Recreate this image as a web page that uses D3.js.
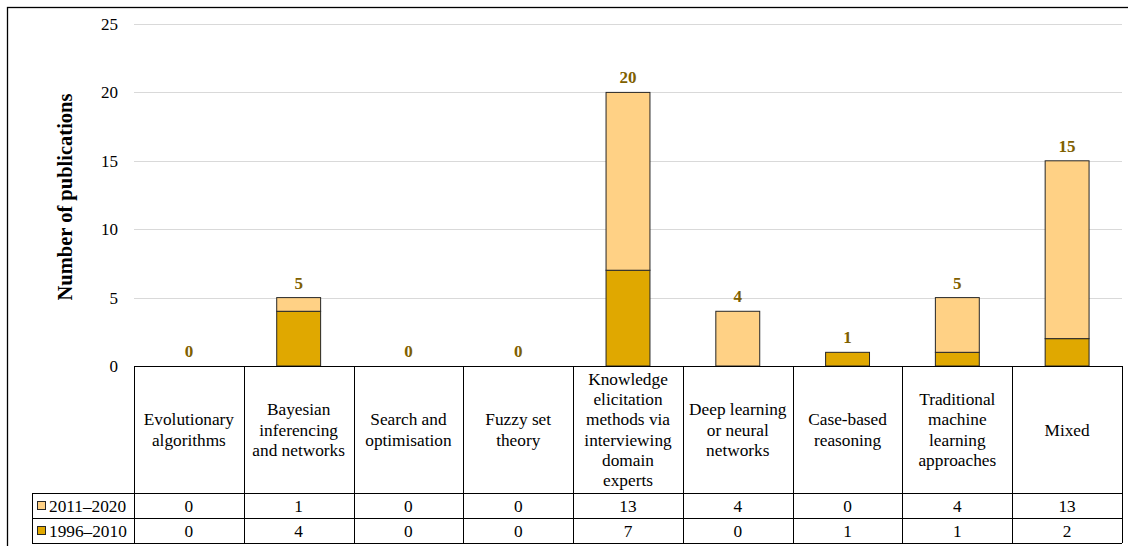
<!DOCTYPE html>
<html>
<head>
<meta charset="utf-8">
<script src="https://cdn.jsdelivr.net/npm/d3@7"></script>
<style>
  html, body { margin: 0; padding: 0; background: #fff; }
  svg { display: block; }
</style>
</head>
<body>
<svg id="chart" width="1128" height="546"></svg>
<script>
// Publication counts by AI method and period
const categories = [
  ["Evolutionary", "algorithms"],
  ["Bayesian", "inferencing", "and networks"],
  ["Search and", "optimisation"],
  ["Fuzzy set", "theory"],
  ["Knowledge", "elicitation", "methods via", "interviewing", "domain", "experts"],
  ["Deep learning", "or neural", "networks"],
  ["Case-based", "reasoning"],
  ["Traditional", "machine", "learning", "approaches"],
  ["Mixed"]
];
const seriesNames = ["2011–2020", "1996–2010"];
const recent = [0, 1, 0, 0, 13, 4, 0, 4, 13];   // 2011–2020
const early  = [0, 4, 0, 0, 7, 0, 1, 1, 2];     // 1996–2010
const yTicks = [0, 5, 10, 15, 20, 25];

const colors = { recent: "#ffd185", early: "#e0a800", total: "#7f6000" };
const FONT = "'Liberation Serif'";
const TXT = 17.3;

const svg = d3.select("#chart");
const plotLeft = 134, plotRight = 1122, plotTop = 24, plotBase = 366;
const catRowBottom = 493, rowH = 25;

const x = d3.scaleBand().domain(d3.range(categories.length)).range([plotLeft, plotRight]).padding(0);
const y = d3.scaleLinear().domain([0, 25]).range([plotBase, plotTop]);
const barW = x.bandwidth() * 0.40;

// outer frame
svg.append("rect").attr("x", 7.5).attr("y", 7.5).attr("width", 1130).attr("height", 545)
  .attr("fill", "none").attr("stroke", "#000").attr("stroke-width", 1.3);

// gridlines
svg.append("g").selectAll("line").data(yTicks.filter(d => d > 0)).join("line")
  .attr("x1", plotLeft).attr("x2", plotRight)
  .attr("y1", d => Math.round(y(d)) + 0.5).attr("y2", d => Math.round(y(d)) + 0.5)
  .attr("stroke", "#d9d9d9").attr("stroke-width", 1);

// y-axis tick labels
const yAxis = d3.axisLeft(y).tickValues(yTicks).tickSize(0).tickPadding(16);
const gy = svg.append("g").attr("transform", `translate(${plotLeft},0)`).call(yAxis);
gy.select(".domain").remove();
gy.attr("font-family", null).attr("font-size", null);
gy.selectAll("text").attr("font-family", FONT).attr("font-size", 17).attr("fill", "#000");

// axis title
svg.append("text")
  .attr("transform", "translate(72,197) rotate(-90)")
  .attr("text-anchor", "middle")
  .attr("font-family", FONT)
  .attr("font-size", 20.5).attr("font-weight", "bold")
  .text("Number of publications");

// stacked bars
const data = categories.map((c, i) => ({ i, early: early[i], recent: recent[i], total: early[i] + recent[i] }));
const bars = svg.append("g");
data.forEach(d => {
  const cx = x(d.i) + x.bandwidth() / 2;
  if (d.early > 0) {
    bars.append("rect")
      .attr("x", cx - barW / 2).attr("y", y(d.early))
      .attr("width", barW).attr("height", y(0) - y(d.early))
      .attr("fill", colors.early).attr("stroke", "#262626").attr("stroke-width", 1);
  }
  if (d.recent > 0) {
    bars.append("rect")
      .attr("x", cx - barW / 2).attr("y", y(d.total))
      .attr("width", barW).attr("height", y(d.early) - y(d.total))
      .attr("fill", colors.recent).attr("stroke", "#262626").attr("stroke-width", 1);
  }
  bars.append("text")
    .attr("x", cx).attr("y", y(d.total) - 9)
    .attr("text-anchor", "middle")
    .attr("font-family", FONT)
    .attr("font-size", 17).attr("font-weight", "bold")
    .attr("fill", colors.total)
    .text(d.total);
});

// data table
const table = svg.append("g");
const tableLeft = 32;
const rowsTop = catRowBottom, tableBottom = catRowBottom + 2 * rowH;

// horizontal lines
table.append("line").attr("x1", plotLeft).attr("x2", plotRight).attr("y1", plotBase + 0.5).attr("y2", plotBase + 0.5);
[rowsTop, rowsTop + rowH, tableBottom].forEach(yy => {
  table.append("line").attr("x1", tableLeft).attr("x2", plotRight).attr("y1", yy + 0.5).attr("y2", yy + 0.5);
});
// vertical lines
d3.range(categories.length + 1).forEach(k => {
  const xx = k < categories.length ? x(k) : plotRight;
  table.append("line").attr("x1", Math.round(xx) + 0.5).attr("x2", Math.round(xx) + 0.5)
    .attr("y1", plotBase).attr("y2", tableBottom);
});
table.append("line").attr("x1", tableLeft + 0.5).attr("x2", tableLeft + 0.5).attr("y1", rowsTop).attr("y2", tableBottom);
table.selectAll("line").attr("stroke", "#000").attr("stroke-width", 1);

// category labels
const lineH = 20.3;
categories.forEach((lines, i) => {
  const cx = x(i) + x.bandwidth() / 2;
  const mid = (plotBase + catRowBottom) / 2;
  const t = table.append("text").attr("text-anchor", "middle")
    .attr("font-family", FONT).attr("font-size", TXT);
  lines.forEach((ln, j) => {
    t.append("tspan").attr("x", cx)
      .attr("y", mid + (j - (lines.length - 1) / 2) * lineH + 6)
      .text(ln);
  });
});

// series rows
[recent, early].forEach((vals, r) => {
  const rowY = rowsTop + r * rowH;
  table.append("rect").attr("x", 37.5).attr("y", rowY + 8.5).attr("width", 8).attr("height", 8)
    .attr("fill", r === 0 ? colors.recent : colors.early).attr("stroke", "#262626").attr("stroke-width", 1);
  table.append("text").attr("x", 49).attr("y", rowY + 19)
    .attr("font-family", FONT).attr("font-size", TXT).text(seriesNames[r]);
  vals.forEach((v, i) => {
    table.append("text").attr("x", x(i) + x.bandwidth() / 2).attr("y", rowY + 19)
      .attr("text-anchor", "middle").attr("font-family", FONT).attr("font-size", TXT).text(v);
  });
});
</script>
</body>
</html>
